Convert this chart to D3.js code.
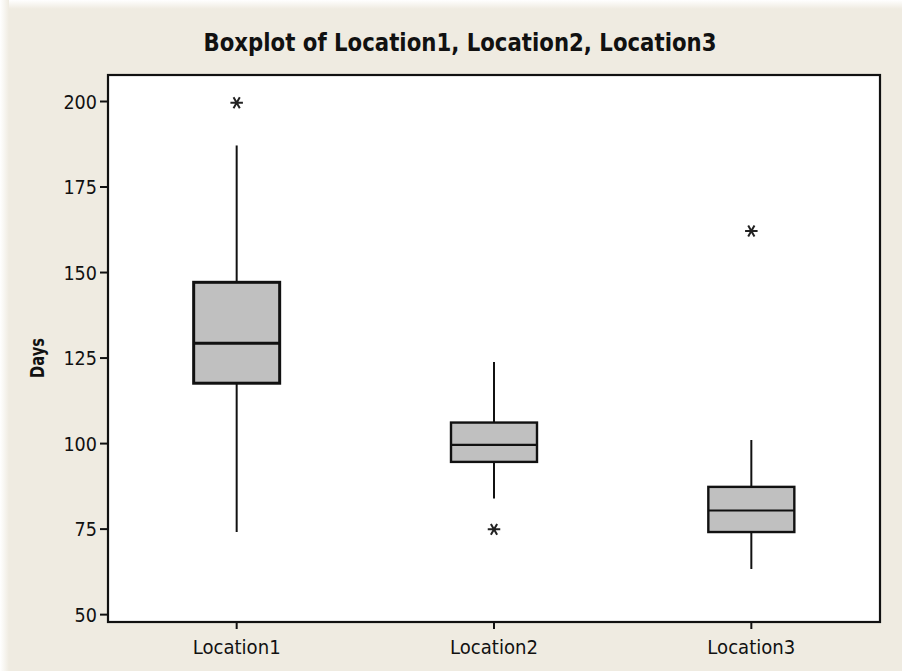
<!DOCTYPE html>
<html>
<head>
<meta charset="utf-8">
<script src="https://cdn.jsdelivr.net/npm/d3@7"></script>
<style>
  html, body { margin: 0; padding: 0; background: #efebe1; }
  svg { display: block; }
  text { font-family: "DejaVu Sans", sans-serif; fill: #111; }
</style>
</head>
<body>
<svg id="chart" width="902" height="671"></svg>
<script>
// ---- data ----
const categories = ["Location1", "Location2", "Location3"];
const q1Values      = [117.5, 94.5, 74];
const medianValues  = [129.2, 99.5, 80.3];
const q3Values      = [147, 106, 87.2];
const whiskerLow    = [74, 83.8, 63.2];
const whiskerHigh   = [187, 123.7, 100.9];
const outlierValues = [[199.5], [74.8], [162]];
const yTicks = [50, 75, 100, 125, 150, 175, 200];
const titleText = "Boxplot of Location1, Location2, Location3";
const yLabel = "Days";

const W = 902, H = 671;
const margin = { left: 108, top: 75, right: 880, bottom: 622 };

const svg = d3.select("#chart");

// background with a faded white border at top/left
const defs = svg.append("defs");
const gTop = defs.append("linearGradient").attr("id", "gTop").attr("x1", 0).attr("y1", 0).attr("x2", 0).attr("y2", 1);
gTop.append("stop").attr("offset", "0%").attr("stop-color", "#ffffff");
gTop.append("stop").attr("offset", "100%").attr("stop-color", "#efebe1");
const gLeft = defs.append("linearGradient").attr("id", "gLeft").attr("x1", 0).attr("y1", 0).attr("x2", 1).attr("y2", 0);
gLeft.append("stop").attr("offset", "0%").attr("stop-color", "#ffffff");
gLeft.append("stop").attr("offset", "100%").attr("stop-color", "#efebe1");

svg.append("rect").attr("width", W).attr("height", H).attr("fill", "#efebe1");
svg.append("rect").attr("x", 0).attr("y", 0).attr("width", W).attr("height", 9).attr("fill", "url(#gTop)");
svg.append("rect").attr("x", 0).attr("y", 0).attr("width", 9).attr("height", H).attr("fill", "url(#gLeft)");

// scales
const x = d3.scaleBand().domain(categories).range([margin.left, margin.right]).paddingInner(0).paddingOuter(0);
const y = d3.scaleLinear().domain([47.7, 207.6]).range([margin.bottom, margin.top]);

// plot area
svg.append("rect")
  .attr("x", margin.left).attr("y", margin.top)
  .attr("width", margin.right - margin.left).attr("height", margin.bottom - margin.top)
  .attr("fill", "#ffffff").attr("stroke", "#111").attr("stroke-width", 2.2);

// axes
const yAxis = d3.axisLeft(y).tickValues(yTicks).tickSize(7).tickPadding(3).tickFormat(d3.format("d"));
const gy = svg.append("g").attr("transform", `translate(${margin.left - 1},0)`).call(yAxis);
gy.select(".domain").remove();
gy.selectAll(".tick line").attr("stroke", "#111").attr("stroke-width", 2);
gy.selectAll(".tick text")
  .attr("font-size", 20)
  .attr("font-family", "DejaVu Sans, sans-serif")
  .attr("fill", "#111")
  .attr("dy", "0.36em")
  .attr("textLength", d => String(d).length * 11.2)
  .attr("lengthAdjust", "spacingAndGlyphs");

const xAxis = d3.axisBottom(x).tickSize(6).tickPadding(11);
const gx = svg.append("g").attr("transform", `translate(0,${margin.bottom + 1})`).call(xAxis);
gx.select(".domain").remove();
gx.selectAll(".tick line").attr("stroke", "#111").attr("stroke-width", 2);
gx.selectAll(".tick text")
  .attr("font-size", 20)
  .attr("font-family", "DejaVu Sans, sans-serif")
  .attr("fill", "#111")
  .attr("textLength", 88)
  .attr("lengthAdjust", "spacingAndGlyphs");

// boxes
const boxW = 86;
const data = categories.map((c, i) => ({
  c, i, q1: q1Values[i], med: medianValues[i], q3: q3Values[i],
  lo: whiskerLow[i], hi: whiskerHigh[i], out: outlierValues[i]
}));
const cx = d => x(d.c) + x.bandwidth() / 2;

const g = svg.append("g");
const boxes = g.selectAll("g.box").data(data).join("g").attr("class", "box");

boxes.append("line")
  .attr("x1", cx).attr("x2", cx)
  .attr("y1", d => y(d.hi)).attr("y2", d => y(d.q3))
  .attr("stroke", "#111").attr("stroke-width", 2);
boxes.append("line")
  .attr("x1", cx).attr("x2", cx)
  .attr("y1", d => y(d.q1)).attr("y2", d => y(d.lo))
  .attr("stroke", "#111").attr("stroke-width", 2);

boxes.append("rect")
  .attr("x", d => cx(d) - boxW / 2)
  .attr("width", boxW)
  .attr("y", d => y(d.q3))
  .attr("height", d => y(d.q1) - y(d.q3))
  .attr("fill", "#c0c0c0")
  .attr("stroke", "#111")
  .attr("stroke-width", d => d.i === 0 ? 3 : 2.4);

boxes.append("line")
  .attr("x1", d => cx(d) - boxW / 2).attr("x2", d => cx(d) + boxW / 2)
  .attr("y1", d => y(d.med)).attr("y2", d => y(d.med))
  .attr("stroke", "#111").attr("stroke-width", d => d.i === 0 ? 3 : 2.2);

// outliers
const star = d3.symbol().type(d3.symbolAsterisk).size(110);
boxes.each(function(d) {
  d3.select(this).selectAll("path.out").data(d.out).join("path")
    .attr("class", "out")
    .attr("d", star)
    .attr("transform", v => `translate(${cx(d)},${y(v)}) rotate(90)`)
    .attr("fill", "none").attr("stroke", "#222").attr("stroke-width", 2);
});

// title
svg.append("text")
  .attr("x", 460).attr("y", 51)
  .attr("text-anchor", "middle")
  .attr("font-size", 25).attr("font-weight", "bold")
  .attr("textLength", 513).attr("lengthAdjust", "spacingAndGlyphs")
  .text(titleText);

// y label
svg.append("text")
  .attr("transform", `translate(44,358) rotate(-90)`)
  .attr("text-anchor", "middle")
  .attr("font-size", 19).attr("font-weight", "bold")
  .attr("textLength", 40).attr("lengthAdjust", "spacingAndGlyphs")
  .text(yLabel);
</script>
</body>
</html>
